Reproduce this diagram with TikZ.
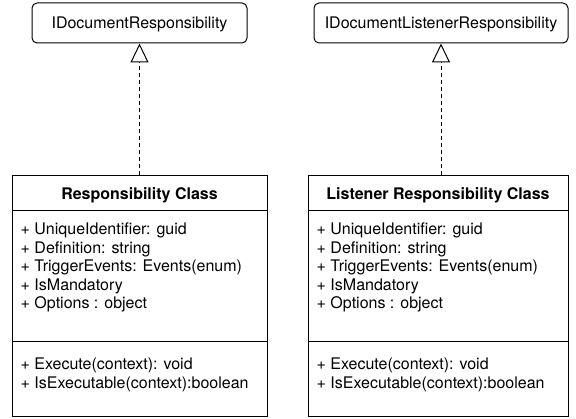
\documentclass[tikz,border=0pt]{standalone}
\usepackage{fontspec}
\setmainfont{TeX Gyre Heros}
\usetikzlibrary{arrows.meta}
\begin{document}
\begin{tikzpicture}[x=1pt,y=-1pt,
  every node/.style={font=\fontsize{16}{18.5}\selectfont},
  topbox/.style={draw, line width=1pt, rounded corners=5pt, minimum height=40pt, inner sep=0pt, text height=11.5pt, text depth=0pt},
  part/.style={draw, line width=1pt, inner sep=0pt, minimum width=#1},
  hdr/.style={font=\fontsize{16}{18.5}\selectfont\bfseries, text height=13pt, text depth=0pt},
  item/.style={anchor=base west, inner sep=0pt},
  realize/.style={draw, line width=1pt, dash pattern=on 4pt off 3pt, -{Triangle[open,length=19pt,width=18pt,line width=1pt]}}
]
\useasboundingbox (0,0) rectangle (576,419);

% interfaces
\node[topbox, minimum width=215pt] (i1) at (139.5,23) {IDocumentResponsibility};
\node[topbox, minimum width=254pt] (i2) at (441,23) {IDocumentListenerResponsibility};

% class 1
\node[part=255pt, minimum height=35pt, hdr] (h1) at (139.5,193.5) {Responsibility Class};
\node[part=255pt, minimum height=131pt] (a1) at (139.5,276.5) {};
\node[part=255pt, minimum height=75pt] (m1) at (139.5,379.5) {};
\node[item] (a1l1) at (20.5,235) {+ UniqueIdentifier: guid};
\node[item] (a1l2) at (20.5,253.5) {+ Definition: string};
\node[item] (a1l3) at (20.5,272) {+ TriggerEvents: Events(enum)};
\node[item] (a1l4) at (20.5,290.5) {+ IsMandatory};
\node[item] (a1l5) at (20.5,309) {+ Options : object};
\node[item] (m1l1) at (20.5,370) {+ Execute(context): void};
\node[item] (m1l2) at (20.5,388.5) {+ IsExecutable(context):boolean};

% class 2
\node[part=260pt, minimum height=35pt, hdr] (h2) at (438,193.5) {Listener Responsibility Class};
\node[part=260pt, minimum height=131pt] (a2) at (438,276.5) {};
\node[part=260pt, minimum height=75pt] (m2) at (438,379.5) {};
\node[item] (a2l1) at (316.5,235) {+ UniqueIdentifier: guid};
\node[item] (a2l2) at (316.5,253.5) {+ Definition: string};
\node[item] (a2l3) at (316.5,272) {+ TriggerEvents: Events(enum)};
\node[item] (a2l4) at (316.5,290.5) {+ IsMandatory};
\node[item] (a2l5) at (316.5,309) {+ Options : object};
\node[item] (m2l1) at (316.5,370) {+ Execute(context): void};
\node[item] (m2l2) at (316.5,388.5) {+ IsExecutable(context):boolean};

% realizations
\draw[realize] (h1.north) -- (i1.south);
\draw[realize] (i2.south |- h2.north) -- (i2.south);
\end{tikzpicture}
\end{document}
